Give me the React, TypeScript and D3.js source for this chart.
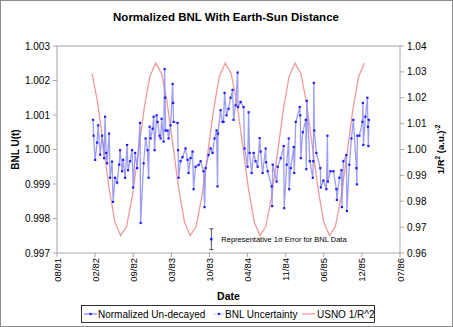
import React from "react";
import * as d3 from "d3";

const W = 453, H = 327;

const tickDates = ["1981-08-01","1982-02-17","1982-09-05","1983-03-24","1983-10-10","1984-04-27","1984-11-13","1985-06-01","1985-12-18","1986-07-06"];
const tickLabels = ["08/81","02/82","09/82","03/83","10/83","04/84","11/84","06/85","12/85","07/86"];
const leftTicks = [0.997, 0.998, 0.999, 1.000, 1.001, 1.002, 1.003];
const rightTicks = [0.96, 0.97, 0.98, 0.99, 1.00, 1.01, 1.02, 1.03, 1.04];

// Normalized Un-decayed BNL (decimal year, value)
const bnlYears = [
1982.100,1982.107,1982.129,1982.157,1982.172,1982.201,1982.229,1982.258,1982.272,1982.287,1982.301,1982.330,1982.344,1982.373,1982.387,1982.416,1982.445,1982.474,1982.488,1982.517,1982.531,1982.560,1982.589,1982.603,1982.632,1982.661,1982.675,1982.704,1982.733,1982.775,1982.783,1982.826,1982.855,1982.883,1982.898,1982.912,1982.927,1982.955,1982.970,1982.984,
1983.013,1983.027,1983.056,1983.070,1983.085,1983.114,1983.128,1983.135,1983.142,1983.171,1983.185,1983.214,1983.243,1983.250,1983.257,1983.314,1983.322,1983.329,1983.357,1983.386,1983.429,1983.458,1983.472,1983.501,1983.530,1983.544,1983.573,1983.616,1983.645,1983.688,1983.702,1983.717,1983.760,1983.789,1983.817,1983.846,1983.875,1983.889,1983.896,1983.932,1983.961,1983.975,1983.990,
1984.018,1984.047,1984.076,1984.105,1984.119,1984.148,1984.177,1984.184,1984.220,1984.263,1984.277,1984.320,1984.335,1984.349,1984.378,1984.407,1984.435,1984.464,1984.493,1984.507,1984.536,1984.579,1984.586,1984.608,1984.665,1984.672,1984.680,1984.737,1984.752,1984.795,1984.838,1984.845,1984.881,1984.910,1984.917,1984.939,1984.982,1984.989,
1985.011,1985.068,1985.076,1985.083,1985.112,1985.155,1985.162,1985.170,1985.213,1985.256,1985.263,1985.271,1985.278,1985.307,1985.364,1985.371,1985.408,1985.451,1985.466,1985.473,1985.509,1985.552,1985.595,1985.602,1985.638,1985.667,1985.674,1985.696,1985.739,1985.746,1985.782,1985.811,1985.839,1985.883,1985.890,1985.897,1985.926,1985.969,1985.976,1985.983,
1986.012,1986.041,1986.048,1986.055,1986.062
];
const bnlValues = [
1.00086,1.0004,0.9997,1.0002,1.0007,0.99985,1.0004,0.99975,1.00095,0.9999,0.9996,1.00046,0.99918,0.99965,0.99848,0.99918,0.99904,0.99956,0.99998,0.99937,0.9997,0.99918,1.00013,0.9994,0.99966,0.99998,0.9989,0.9999,0.99946,1.00077,0.99787,0.9996,1.00032,0.99998,0.99918,1.00066,1.00032,1.0006,1.00095,0.99998,
1.00099,1.0008,1.0004,1.00032,1.00089,1.00023,1.00233,1.0015,1.00055,1.00055,1.00032,1.0007,1.0019,1.00135,1.0008,1.00077,0.99998,0.99918,0.99966,0.99978,1.00003,0.9997,0.99932,0.99975,0.99994,0.99885,0.9995,0.99955,0.99966,0.99937,0.99833,0.99946,0.99984,1.00003,0.9999,1.00032,1.00055,0.99893,1.00046,1.00114,1.0008,1.0008,1.00164,
1.00099,1.00118,1.0015,1.00173,1.00086,1.00128,1.00223,1.00123,1.00138,1.00123,1.00003,0.9995,1.00108,0.9999,0.99932,0.9999,0.99966,0.9995,1.00033,0.99994,0.99932,1.00003,0.99963,0.99937,0.99893,0.99836,0.99956,0.99907,0.9995,0.99975,1.0001,0.9983,0.99956,1.00032,0.99885,0.99946,1.00007,0.99932,
1.0008,1.00123,1.00099,0.99975,1.0005,1.00086,0.99943,1.00141,0.99966,0.99918,0.99966,1.00193,1.00055,0.9999,0.99946,0.9989,0.9991,0.99885,1.0004,0.99907,0.99937,0.99937,0.99885,0.99854,0.99918,0.9994,0.99833,0.99966,0.99984,0.99822,0.99956,1.00032,1.00086,0.99946,0.99899,1.0004,1.0004,1.0008,1.00135,1.00013,
1.00095,1.0015,1.00066,1.0001,1.00086
];

// USNO 1/R^2 (first of month)
const usnoMonths = [
"1982-02","1982-03","1982-04","1982-05","1982-06","1982-07","1982-08","1982-09","1982-10","1982-11","1982-12",
"1983-01","1983-02","1983-03","1983-04","1983-05","1983-06","1983-07","1983-08","1983-09","1983-10","1983-11","1983-12",
"1984-01","1984-02","1984-03","1984-04","1984-05","1984-06","1984-07","1984-08","1984-09","1984-10","1984-11","1984-12",
"1985-01","1985-02","1985-03","1985-04","1985-05","1985-06","1985-07","1985-08","1985-09","1985-10","1985-11","1985-12",
"1986-01"
];
const usnoValues = [
1.0293,1.0186,1.0019,0.9852,0.9720,0.9667,0.9702,0.9822,0.9984,1.0156,1.0282,
1.0334,1.0293,1.0186,1.0019,0.9852,0.9720,0.9667,0.9702,0.9822,0.9984,1.0156,1.0282,
1.0334,1.0293,1.0186,1.0019,0.9852,0.9720,0.9667,0.9702,0.9822,0.9984,1.0156,1.0282,
1.0334,1.0293,1.0186,1.0019,0.9852,0.9720,0.9667,0.9702,0.9822,0.9984,1.0156,1.0282,
1.0334
];

const errYear = 1983.80;
const errValue = 0.9974;
const errSigma = 0.0003;

function yearToDate(y: number) {
  const yr = Math.floor(y);
  const s = Date.UTC(yr, 0, 1), e = Date.UTC(yr + 1, 0, 1);
  return new Date(s + (y - yr) * (e - s));
}
const parseDay = (s: string) => new Date(s + "T00:00:00Z");
const parseMonth = (s: string) => new Date(s + "-01T00:00:00Z");

export default function App() {
  const L = 57, R = 400, T = 46, B = 253;
  const x = d3.scaleUtc().domain([parseDay(tickDates[0]), parseDay(tickDates[tickDates.length - 1])]).range([L, R]);
  const yL = d3.scaleLinear().domain([0.997, 1.003]).range([B, T]);
  const yR = d3.scaleLinear().domain([0.96, 1.04]).range([B, T]);

  const bnl = bnlYears.map((yy, i) => ({ d: yearToDate(yy), v: bnlValues[i] }));
  const usno = usnoMonths.map((m, i) => ({ d: parseMonth(m), v: usnoValues[i] }));

  const bnlLine = d3.line<any>().x(p => x(p.d)).y(p => yL(p.v))(bnl) || "";
  const usnoLine = d3.line<any>().x(p => x(p.d)).y(p => yR(p.v))(usno) || "";

  const font = "'Liberation Sans', Arial, sans-serif";
  const grey = "#a6a6a6";
  const blueLine = "#8c8cf5";
  const blueDot = "#1a1aff";
  const red = "#f29a9a";

  const ex = x(yearToDate(errYear));

  return (
    <svg width={W} height={H} style={{ position: "absolute", left: 0, top: 0, background: "#fff" }} fontFamily={font}>
      <rect x={0.5} y={0.5} width={W - 1} height={H - 1} fill="#fff" stroke="#8c8c8c" />
      <text x={226} y={21} textAnchor="middle" fontSize={11.5} fontWeight="bold" fill="#000">Normalized BNL With Earth-Sun Distance</text>

      <rect x={L} y={T} width={R - L} height={B - T} fill="none" stroke={grey} strokeWidth={1} />

      {leftTicks.map((t, i) => (
        <g key={"l" + i}>
          <line x1={L - 4} x2={L} y1={yL(t)} y2={yL(t)} stroke={grey} />
          <text x={L - 7} y={yL(t) + 3.5} textAnchor="end" fontSize={10} fill="#000">{t.toFixed(3)}</text>
        </g>
      ))}
      {rightTicks.map((t, i) => (
        <g key={"r" + i}>
          <line x1={R} x2={R + 4} y1={yR(t)} y2={yR(t)} stroke={grey} />
          <text x={R + 7} y={yR(t) + 3.5} textAnchor="start" fontSize={10} fill="#000">{t.toFixed(2)}</text>
        </g>
      ))}
      {tickDates.map((t, i) => {
        const xx = x(parseDay(t));
        return (
          <g key={"x" + i}>
            <line x1={xx} x2={xx} y1={B} y2={B + 4} stroke={grey} />
            <text transform={`translate(${xx + 3.5},${B + 5}) rotate(-90)`} textAnchor="end" fontSize={9.5} fill="#000">{tickLabels[i]}</text>
          </g>
        );
      })}

      <text transform={`translate(19,${(T + B) / 2}) rotate(-90)`} textAnchor="middle" fontSize={10} fontWeight="bold">BNL U(t)</text>
      <text transform={`translate(444,${(T + B) / 2}) rotate(-90)`} textAnchor="middle" fontSize={9.5} fontWeight="bold">
        1/R<tspan dy={-4} fontSize={6.5}>2</tspan><tspan dy={4}> (a.u.)</tspan><tspan dy={-4} fontSize={6.5}>-2</tspan>
      </text>
      <text x={(L + R) / 2} y={300} textAnchor="middle" fontSize={10.5} fontWeight="bold">Date</text>

      <path d={usnoLine} fill="none" stroke={red} strokeWidth={1.3} />
      <path d={bnlLine} fill="none" stroke={blueLine} strokeWidth={1.3} strokeOpacity={0.85} />
      {bnl.map((p, i) => (
        <rect key={"p" + i} x={x(p.d) - 1.1} y={yL(p.v) - 1.1} width={2.2} height={2.2} fill={blueDot} />
      ))}

      <line x1={ex} x2={ex} y1={yL(errValue + errSigma)} y2={yL(errValue - errSigma)} stroke="#555" />
      <line x1={ex - 2} x2={ex + 2} y1={yL(errValue + errSigma)} y2={yL(errValue + errSigma)} stroke="#555" />
      <line x1={ex - 2} x2={ex + 2} y1={yL(errValue - errSigma)} y2={yL(errValue - errSigma)} stroke="#555" />
      <rect x={ex - 1.2} y={yL(errValue) - 1.2} width={2.4} height={2.4} fill={blueDot} />
      <text x={ex + 10} y={yL(errValue) + 3} fontSize={7.5} fill="#000">Representative 1σ Error for BNL Data</text>

      <rect x={81.5} y={305.5} width={293} height={17} fill="#fff" stroke="#000" strokeWidth={0.8} />
      <line x1={84} x2={97} y1={314} y2={314} stroke={blueLine} strokeWidth={1.3} />
      <rect x={89.4} y={312.9} width={2.2} height={2.2} fill={blueDot} />
      <text x={98} y={317.5} fontSize={10}>Normalized Un-decayed</text>
      <line x1={213} x2={224} y1={314} y2={314} stroke={blueLine} strokeWidth={1} strokeOpacity={0.5} />
      <rect x={217.9} y={312.9} width={2.2} height={2.2} fill={blueDot} />
      <text x={225} y={317.5} fontSize={10}>BNL Uncertainty</text>
      <line x1={302} x2={315} y1={314} y2={314} stroke={red} strokeWidth={1.3} />
      <text x={317} y={317.5} fontSize={10}>USNO 1/R^2</text>
    </svg>
  );
}
